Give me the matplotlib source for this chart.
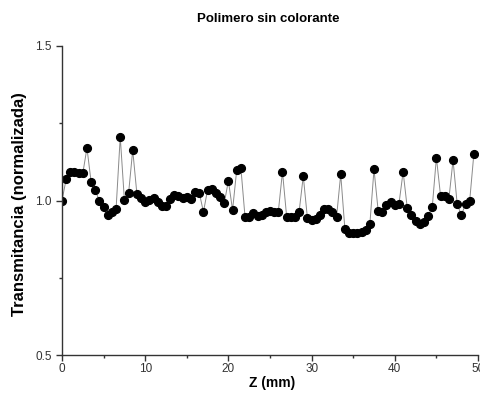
import matplotlib
matplotlib.use("Agg")
import matplotlib.pyplot as plt
import numpy as np
from matplotlib.ticker import MultipleLocator

plt.rcParams['font.family'] = ['Liberation Sans', 'DejaVu Sans']

# Z (mm), pasos de 0.5 mm
z = np.arange(0, 50, 0.5)
trans = [1.000, 1.069, 1.091, 1.091, 1.090, 1.088, 1.170, 1.060, 1.033, 0.998,
         0.980, 0.953, 0.963, 0.973, 1.206, 1.001, 1.023, 1.163, 1.022, 1.007,
         0.996, 1.002, 1.007, 0.994, 0.981, 0.982, 1.004, 1.018, 1.015, 1.009,
         1.011, 1.004, 1.027, 1.025, 0.963, 1.035, 1.037, 1.025, 1.012, 0.991,
         1.064, 0.969, 1.099, 1.106, 0.946, 0.946, 0.959, 0.950, 0.953, 0.964,
         0.967, 0.964, 0.964, 1.093, 0.948, 0.948, 0.946, 0.964, 1.079, 0.942,
         0.937, 0.941, 0.953, 0.973, 0.973, 0.964, 0.947, 1.085, 0.908, 0.896,
         0.896, 0.896, 0.897, 0.905, 0.923, 1.101, 0.967, 0.964, 0.985, 0.994,
         0.985, 0.989, 1.093, 0.975, 0.953, 0.935, 0.924, 0.931, 0.951, 0.978,
         1.139, 1.015, 1.016, 1.005, 1.131, 0.988, 0.953, 0.988, 0.999, 1.150]

fig = plt.figure(figsize=(4.81, 3.95), dpi=100)
ax = fig.add_axes([62/481, 1 - 355/395, 416/481, 309/395])

ax.plot(z, trans, color='#8a8a8a', lw=0.7, zorder=1)
ax.plot(z, trans, 'o', color='black', ms=5.6, zorder=2)

ax.set_xlim(0, 50)
ax.set_ylim(0.5, 1.5)
ax.xaxis.set_major_locator(MultipleLocator(10))
ax.xaxis.set_minor_locator(MultipleLocator(5))
ax.yaxis.set_major_locator(MultipleLocator(0.5))
ax.yaxis.set_minor_locator(MultipleLocator(0.25))
ax.tick_params(which='major', direction='out', length=4, width=1, labelsize=8.5, colors='#333333')
ax.tick_params(which='minor', direction='out', length=2.5, width=1, colors='#333333')
ax.tick_params(axis='x', pad=2)

for s in ['top', 'right']:
    ax.spines[s].set_visible(False)
for s in ['left', 'bottom']:
    ax.spines[s].set_color('#333333')
    ax.spines[s].set_linewidth(1)

ax.set_xlabel('Z (mm)', fontsize=10, fontweight='bold')
ax.xaxis.set_label_coords(0.505, -0.068)
ax.set_ylabel('Transmitancia (normalizada)', fontsize=12, fontweight='bold')
ax.yaxis.set_label_coords(-0.084, 0.49)

fig.text(0.558, 1 - 19/395, 'Polimero sin colorante', fontsize=9.5,
         fontweight='bold', ha='center', va='center')

fig.savefig('out.png', dpi=100)
